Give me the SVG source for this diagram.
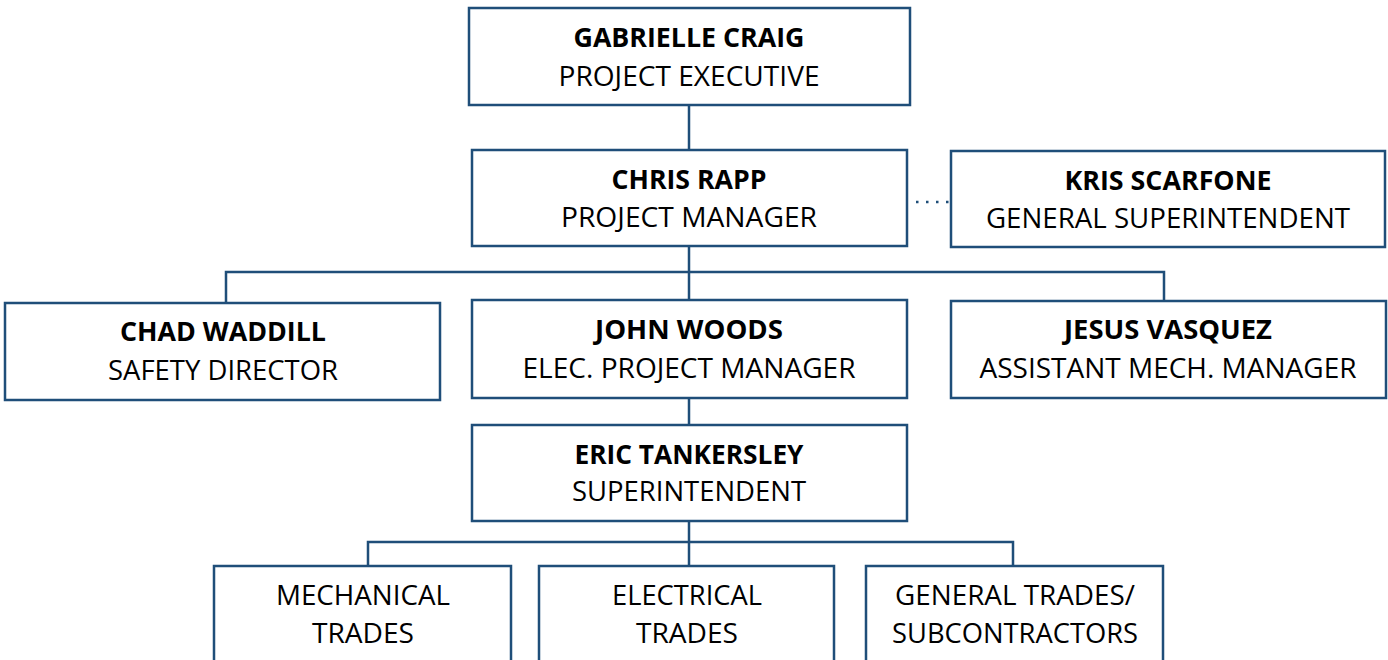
<svg xmlns="http://www.w3.org/2000/svg" width="1388" height="660" viewBox="0 0 1388 660">
<style>
.box{fill:#fff;stroke:#1f4e79;stroke-width:2.5}
.ln{fill:none;stroke:#1f4e79;stroke-width:2.5}
.dot{fill:none;stroke:#1f4e79;stroke-width:2.5;stroke-dasharray:2.5 7.5}
text{font-family:"Open Sans","Liberation Sans",sans-serif;font-size:27px;fill:#000;text-anchor:middle}
.b{font-weight:bold}
.c{font-size:28px}
</style>
<rect width="1388" height="660" fill="#fff"/>
<g id="connectors">
<line class="ln" x1="689" y1="105" x2="689" y2="150"/>
<line class="ln" x1="689" y1="246" x2="689" y2="300"/>
<polyline class="ln" points="226,303 226,272 1164,272 1164,301"/>
<line class="ln" x1="689" y1="398" x2="689" y2="425"/>
<line class="ln" x1="689" y1="521" x2="689" y2="565"/>
<polyline class="ln" points="368,565 368,542 1013,542 1013,565"/>
<line class="dot" x1="916" y1="202" x2="951" y2="202"/>
</g>
<g id="gabrielle">
<rect class="box" x="469" y="8" width="441" height="97"/>
<text class="b" x="689" y="47" textLength="231" lengthAdjust="spacingAndGlyphs">GABRIELLE CRAIG</text>
<text x="689" y="86" textLength="261" lengthAdjust="spacingAndGlyphs">PROJECT EXECUTIVE</text>
</g>
<g id="chris">
<rect class="box" x="472" y="150" width="435" height="96"/>
<text class="b" x="689" y="189" textLength="155" lengthAdjust="spacingAndGlyphs">CHRIS RAPP</text>
<text x="689" y="227" textLength="256" lengthAdjust="spacingAndGlyphs">PROJECT MANAGER</text>
</g>
<g id="kris">
<rect class="box" x="951" y="151" width="434" height="96"/>
<text class="b" x="1168" y="190" textLength="207" lengthAdjust="spacingAndGlyphs">KRIS SCARFONE</text>
<text x="1168" y="228" textLength="364" lengthAdjust="spacingAndGlyphs">GENERAL SUPERINTENDENT</text>
</g>
<g id="chad">
<rect class="box" x="5" y="303" width="435" height="97"/>
<text class="b" x="223" y="341" textLength="206" lengthAdjust="spacingAndGlyphs">CHAD WADDILL</text>
<text x="223" y="380" textLength="230" lengthAdjust="spacingAndGlyphs">SAFETY DIRECTOR</text>
</g>
<g id="john">
<rect class="box" x="472" y="300" width="435" height="98"/>
<text class="b" x="689" y="339" textLength="188" lengthAdjust="spacingAndGlyphs">JOHN WOODS</text>
<text x="689" y="378" textLength="333" lengthAdjust="spacingAndGlyphs">ELEC. PROJECT MANAGER</text>
</g>
<g id="jesus">
<rect class="box" x="951" y="301" width="435" height="97"/>
<text class="b" x="1168" y="339" textLength="208" lengthAdjust="spacingAndGlyphs">JESUS VASQUEZ</text>
<text x="1168" y="378" textLength="377" lengthAdjust="spacingAndGlyphs">ASSISTANT MECH. MANAGER</text>
</g>
<g id="eric">
<rect class="box" x="472" y="425" width="435" height="96"/>
<text class="b" x="689" y="464" textLength="229" lengthAdjust="spacingAndGlyphs">ERIC TANKERSLEY</text>
<text x="689" y="501" textLength="234" lengthAdjust="spacingAndGlyphs">SUPERINTENDENT</text>
</g>
<g id="mechanical">
<rect class="box" x="214" y="566" width="297" height="100"/>
<text class="c" x="363" y="605" textLength="174" lengthAdjust="spacingAndGlyphs">MECHANICAL</text>
<text class="c" x="363" y="643" textLength="102" lengthAdjust="spacingAndGlyphs">TRADES</text>
</g>
<g id="electrical">
<rect class="box" x="539" y="566" width="295" height="100"/>
<text class="c" x="687" y="605" textLength="150" lengthAdjust="spacingAndGlyphs">ELECTRICAL</text>
<text class="c" x="687" y="643" textLength="102" lengthAdjust="spacingAndGlyphs">TRADES</text>
</g>
<g id="general">
<rect class="box" x="866" y="566" width="297" height="100"/>
<text class="c" x="1015" y="605" textLength="240" lengthAdjust="spacingAndGlyphs">GENERAL TRADES/</text>
<text class="c" x="1015" y="643" textLength="246" lengthAdjust="spacingAndGlyphs">SUBCONTRACTORS</text>
</g>
</svg>
